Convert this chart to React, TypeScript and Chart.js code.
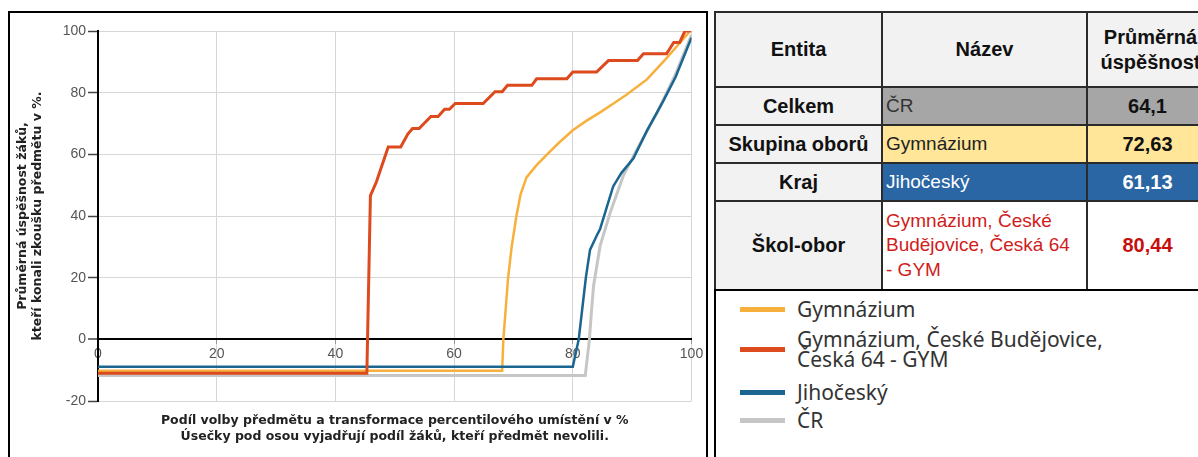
import React, { useEffect, useRef } from "react";
import { Chart, registerables } from "chart.js";

Chart.register(...registerables);

// ---- data ----
const seriesNames = ["Gymnázium, České Budějovice, Česká 64 - GYM", "Jihočeský", "Gymnázium", "ČR"];

const schoolX = [0, 45.3, 45.9, 46.9, 48.9, 51.0, 52.2, 53.0, 54.1, 56.1, 57.3, 58.4, 59.2, 60.2, 64.9, 66.9, 68.1, 69.0, 73.1, 73.9, 79.0, 80.0, 84.0, 86.0, 90.9, 91.9, 95.8, 97.0, 98.0, 98.9, 100];
const schoolY = [-11, -11, 46.6, 51, 62.4, 62.4, 66.6, 68.4, 68.4, 72.3, 72.3, 74.6, 74.6, 76.5, 76.5, 80.3, 80.3, 82.4, 82.4, 84.5, 84.5, 86.7, 86.7, 90.4, 90.4, 92.6, 92.6, 96.3, 96.3, 100, 100];

const krajX = [0, 80.0, 81.0, 81.6, 82.2, 82.9, 84.0, 84.6, 86.8, 88.2, 89.1, 90.2, 92.5, 95.3, 97.3, 100];
const krajY = [-8.9, -8.9, 0, 10, 20, 29, 33.5, 35.8, 49.6, 54, 56.1, 58.6, 67.7, 77.5, 85, 97.8];

const gymX = [0, 68.1, 68.3, 68.7, 69.1, 69.7, 70.5, 71.2, 72.2, 73.9, 75.8, 77.8, 80.0, 82.4, 84.6, 86.8, 89.1, 92.5, 95.8, 98.2, 99.6];
const gymY = [-10.2, -10.2, 0, 10, 20, 30, 40, 47, 52.5, 56.5, 60.2, 64, 67.8, 71, 73.6, 76.4, 79.4, 84.3, 91.2, 96.5, 99.6];

const crX = [0, 82.1, 82.8, 83.1, 83.5, 84.6, 86.3, 88.5, 90.8, 94.2, 97.2, 100];
const crY = [-11.7, -11.7, 0, 8, 17.4, 30.3, 41.1, 53, 61.6, 73.5, 85.5, 98.8];

const yTitle = ["Průměrná úspěšnost žáků,", "kteří konali zkoušku předmětu v %."];
const xTitle = ["Podíl volby předmětu a transformace percentilového umístění v %", "Úsečky pod osou vyjadřují podíl žáků, kteří předmět nevolili."];

const tableHeaders = ["Entita", "Název", "Průměrná úspěšnost"];
const entityLabels = ["Celkem", "Skupina oborů", "Kraj", "Škol-obor"];
const entityNames = ["ČR", "Gymnázium", "Jihočeský", "Gymnázium, České Budějovice, Česká 64 - GYM"];
const entityValues = ["64,1", "72,63", "61,13", "80,44"];

const legendLabels = ["Gymnázium", "Gymnázium, České Budějovice, Česká 64 - GYM", "Jihočeský", "ČR"];

// ---- styles ----
const RED = "#dc4a1e";
const BLUE = "#1b6591";
const YELLOW = "#f8b03c";
const GRAY = "#c6c6c6";

const rowBg = ["#a6a6a6", "#ffe699", "#2a66a3", "#ffffff"];
const rowColor = ["#333333", "#222222", "#ffffff", "#d01c1c"];
const valueColor = ["#111111", "#111111", "#ffffff", "#c80f0f"];
const legendColors = [YELLOW, RED, BLUE, GRAY];
const legendMargins = [8, 10, 13, 8];

const pts = (xs: number[], ys: number[]) => xs.map((x, i) => ({ x, y: ys[i] }));

export default function App() {
  const ref = useRef<HTMLCanvasElement>(null);

  useEffect(() => {
    const gridColor = "#d6d6d6";
    const chart = new Chart(ref.current as HTMLCanvasElement, {
      type: "line",
      data: {
        datasets: [
          { label: seriesNames[0], data: pts(schoolX, schoolY), borderColor: RED, borderWidth: 3, pointRadius: 0, tension: 0 },
          { label: seriesNames[1], data: pts(krajX, krajY), borderColor: BLUE, borderWidth: 2.5, pointRadius: 0, tension: 0 },
          { label: seriesNames[2], data: pts(gymX, gymY), borderColor: YELLOW, borderWidth: 2.5, pointRadius: 0, tension: 0 },
          { label: seriesNames[3], data: pts(crX, crY), borderColor: GRAY, borderWidth: 3, pointRadius: 0, tension: 0 },
        ],
      },
      options: {
        animation: false,
        responsive: false,
        layout: { padding: { top: 18, right: 14.5, left: 0, bottom: 0 } },
        plugins: {
          legend: { display: false },
          tooltip: { enabled: false },
          title: {
            display: true,
            position: "bottom",
            fullSize: false,
            text: xTitle,
            color: "#222",
            font: { family: "DejaVu Sans", size: 12.5, weight: "bold", lineHeight: 16 / 12.5 },
            padding: { top: 12, bottom: 12 },
          },
        },
        scales: {
          x: {
            type: "linear",
            min: 0,
            max: 100,
            position: { y: 0 } as any,
            ticks: { stepSize: 20, color: "#555", padding: 2, font: { family: "Liberation Sans", size: 14 } },
            grid: {
              color: (c: any) => (c.tick && c.tick.value === 0 ? "#000" : gridColor),
              tickColor: "#999",
              tickLength: 4,
            },
            border: { color: "#000", width: 2 },
            afterFit: (s: any) => { s.height = 0; },
          },
          y: {
            type: "linear",
            min: -20,
            max: 100,
            ticks: { stepSize: 20, color: "#555", padding: 2, font: { family: "Liberation Sans", size: 14 } },
            grid: {
              color: (c: any) => (c.tick && c.tick.value === 0 ? "#000" : gridColor),
              lineWidth: (c: any) => (c.tick && c.tick.value === 0 ? 2 : 1),
              tickColor: "#444",
              tickLength: 10,
              tickWidth: 1.5,
            },
            border: { color: "#000", width: 2 },
            title: {
              display: true,
              text: yTitle,
              color: "#222",
              font: { family: "DejaVu Sans", size: 12.5, weight: "bold", lineHeight: 15 / 12.5 },
              padding: { top: 5.5, bottom: 0 },
            },
            afterFit: (s: any) => { s.width = 88; },
          },
        },
      },
    });
    return () => chart.destroy();
  }, []);

  const cellBase: React.CSSProperties = {
    display: "flex",
    alignItems: "center",
    fontFamily: "'Liberation Sans', Arial, sans-serif",
    boxSizing: "border-box",
  };

  return (
    <div style={{ position: "fixed", left: 0, top: 0, width: 1198, height: 457, overflow: "hidden", background: "#fff" }}>
      <div style={{ position: "absolute", left: 8, top: 11, width: 700, height: 500, border: "2px solid #000", boxSizing: "border-box", background: "#fff" }}>
        <canvas ref={ref} width={696} height={444} style={{ display: "block", width: 696, height: 444 }} />
      </div>

      <div
        style={{
          position: "absolute",
          left: 714,
          top: 11,
          display: "grid",
          gridTemplateColumns: "165px 203px 125px",
          gridTemplateRows: "73px 36px 36px 36px 87px",
          gap: 2,
          padding: 2,
          background: "#2b2b2b",
        }}
      >
        {tableHeaders.map((h, i) => (
          <div key={"h" + i} style={{ ...cellBase, background: "#f2f2f2", justifyContent: "center", textAlign: "center", fontWeight: "bold", fontSize: 20, lineHeight: "25px", color: "#111", padding: "0 4px" }}>
            {h}
          </div>
        ))}
        {entityLabels.map((lab, r) => (
          <React.Fragment key={"r" + r}>
            <div style={{ ...cellBase, background: "#f2f2f2", justifyContent: "center", fontWeight: "bold", fontSize: 20, color: "#111" }}>{lab}</div>
            <div style={{ ...cellBase, background: rowBg[r], color: rowColor[r], fontSize: 19, lineHeight: "24.5px", paddingLeft: 3, paddingRight: 8 }}>{entityNames[r]}</div>
            <div style={{ ...cellBase, background: rowBg[r], color: valueColor[r], justifyContent: "center", fontWeight: "bold", fontSize: 20, paddingRight: 6 }}>{entityValues[r]}</div>
          </React.Fragment>
        ))}
      </div>

      <div style={{ position: "absolute", left: 714, top: 289, width: 600, height: 300, borderTop: "2px solid #000", borderLeft: "2px solid #000", boxSizing: "border-box" }}>
        <div style={{ position: "absolute", left: 24, top: 0, width: 400 }}>
          {legendLabels.map((l, i) => (
            <div key={l} style={{ display: "flex", alignItems: "center", marginTop: legendMargins[i] }}>
              <div style={{ width: 45, height: 5, background: legendColors[i], flex: "none" }} />
              <div style={{ marginLeft: 12, width: 330, fontFamily: "'Noto Sans', sans-serif", fontSize: 21, lineHeight: "20px", color: "#333" }}>{l}</div>
            </div>
          ))}
        </div>
      </div>
    </div>
  );
}
